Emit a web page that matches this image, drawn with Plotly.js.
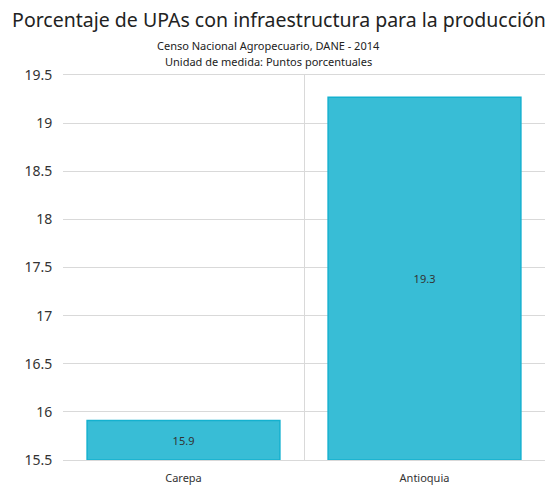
<!DOCTYPE html>
<html>
<head>
<meta charset="utf-8">
<script src="https://cdn.plot.ly/plotly-3.0.1.min.js"></script>
<style>html,body{margin:0;padding:0;background:#fff;}#chart{width:549px;height:487px;}</style>
</head>
<body>
<div id="chart"></div>
<script>
const categories = ["Carepa", "Antioquia"];
const values = [15.91, 19.27];
const labels = ["15.9", "19.3"];
const axisMin = 15.5;
const yTicks = [15.5, 16, 16.5, 17, 17.5, 18, 18.5, 19, 19.5];
const yTickText = ["15.5", "16", "16.5", "17", "17.5", "18", "18.5", "19", "19.5"];

const font = "Noto Sans, Open Sans, sans-serif";

const trace = {
  type: "bar",
  x: categories,
  y: values.map(v => v - axisMin),
  base: axisMin,
  text: labels,
  textposition: "inside",
  insidetextanchor: "middle",
  textfont: {family: font, size: 11, color: "#333"},
  marker: {color: "#38bdd6", line: {color: "#14b1cf", width: 1.5}},
  hoverinfo: "x"
};

const layout = {
  width: 549, height: 487,
  margin: {l: 63, r: 4, t: 75, b: 27},
  paper_bgcolor: "#fff", plot_bgcolor: "#fff",
  showlegend: false,
  bargap: 0.2,
  font: {family: font, color: "#333"},
  title: {
    text: "Porcentaje de UPAs con infraestructura para la producción",
    font: {family: font, size: 19.5, color: "#222"},
    x: 279 / 549, xanchor: "center", y: 0.958, yanchor: "middle"
  },
  annotations: [
    {text: "Censo Nacional Agropecuario, DANE - 2014", xref: "paper", yref: "paper",
     x: (268 - 63) / 482, y: 1, xanchor: "center", yanchor: "middle", yshift: 30, showarrow: false,
     font: {family: font, size: 11, color: "#222"}},
    {text: "Unidad de medida: Puntos porcentuales", xref: "paper", yref: "paper",
     x: (268 - 63) / 482, y: 1, xanchor: "center", yanchor: "middle", yshift: 14, showarrow: false,
     font: {family: font, size: 11, color: "#222"}}
  ],
  xaxis: {
    type: "category",
    tickson: "boundaries",
    showgrid: true, gridcolor: "#d9d9d9", gridwidth: 1,
    showline: true, linecolor: "#d9d9d9", mirror: true,
    ticks: "", ticklabelstandoff: 8,
    tickfont: {family: font, size: 11, color: "#333"},
    zeroline: false, fixedrange: true
  },
  yaxis: {
    range: [15.5, 19.5],
    tickvals: yTicks,
    ticktext: yTickText,
    showgrid: true, gridcolor: "#d9d9d9", gridwidth: 1,
    showline: false, zeroline: false,
    ticks: "outside", ticklen: 7, tickcolor: "rgba(0,0,0,0)",
    tickfont: {family: font, size: 14, color: "#333"}
  }
};

Plotly.newPlot("chart", [trace], layout, {displayModeBar: false, staticPlot: true});
</script>
</body>
</html>
